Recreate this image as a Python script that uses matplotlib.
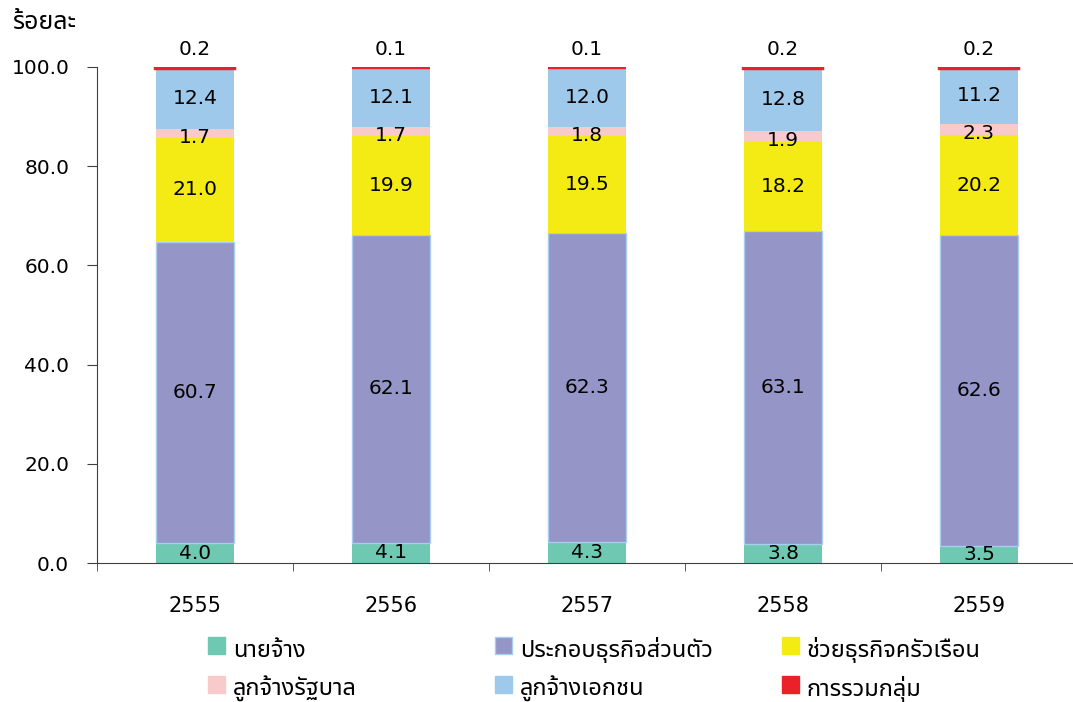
import matplotlib
matplotlib.use("Agg")
import matplotlib.pyplot as plt
from matplotlib.patches import Rectangle
import numpy as np

years = ["2555", "2556", "2557", "2558", "2559"]
employer = [4.0, 4.1, 4.3, 3.8, 3.5]
own_account = [60.7, 62.1, 62.3, 63.1, 62.6]
family_worker = [21.0, 19.9, 19.5, 18.2, 20.2]
gov_employee = [1.7, 1.7, 1.8, 1.9, 2.3]
private_employee = [12.4, 12.1, 12.0, 12.8, 11.2]
group_member = [0.2, 0.1, 0.1, 0.2, 0.2]

names = ["นายจ้าง", "ประกอบธุรกิจส่วนตัว", "ช่วยธุรกิจครัวเรือน",
         "ลูกจ้างรัฐบาล", "ลูกจ้างเอกชน", "การรวมกลุ่ม"]
colors = ["#6fc9b2", "#9595c8", "#f5eb14", "#f9caca", "#9fc9ea", "#ec2028"]
series = [employer, own_account, family_worker, gov_employee,
          private_employee, group_member]

thai = ["Noto Sans Thai", "DejaVu Sans"]
plt.rcParams["font.family"] = "DejaVu Sans"

W, H = 1073, 702
fig = plt.figure(figsize=(W / 100, H / 100), dpi=100)
ax = fig.add_axes([0.0904, 0.198, 0.9096, 0.7066])

x = np.arange(len(years))
w = 0.4
bottom = np.zeros(len(years))
for i, (vals, c) in enumerate(zip(series, colors)):
    vals = np.array(vals)
    if i == 1:
        ax.bar(x, vals, w, bottom=bottom, color=c, edgecolor="#a9cdee", linewidth=1.0)
    elif i == 5:
        ax.bar(x, vals, w, bottom=bottom, color=c, edgecolor=c, linewidth=3.2)
    else:
        ax.bar(x, vals, w, bottom=bottom, color=c, linewidth=0)
    for xi, v, bt in zip(x, vals, bottom):
        if i == 5:
            ax.text(xi, bt + v + 1.6, f"{v:.1f}", ha="center", va="bottom", fontsize=14.5)
        else:
            off = -0.8 if i == 3 else 0
            ax.text(xi, bt + v / 2 + off, f"{v:.1f}", ha="center", va="center", fontsize=14.5)
    bottom = bottom + vals

ax.set_xlim(-0.5, 4.48)
ax.set_ylim(0, 100)
ax.set_yticks(np.arange(0, 101, 20))
ax.set_yticklabels([f"{t:.1f}" for t in np.arange(0, 101, 20)], fontsize=14.5)
ax.set_xticks(x)
ax.set_xticklabels(years, fontsize=15)
ax.tick_params(axis="x", length=0, pad=24)
ax.set_xticks(np.arange(-0.5, 4.0, 1.0), minor=True)
ax.tick_params(axis="x", which="minor", length=6, direction="out", color="#404040")
ax.tick_params(axis="y", length=7, direction="out", color="#404040", pad=13)
for s in ["top", "right"]:
    ax.spines[s].set_visible(False)
ax.spines["left"].set_color("#404040")
ax.spines["bottom"].set_color("#404040")

fig.text(0.011, 0.968, "ร้อยละ", fontsize=18, family=thai, fontweight="bold", va="center")

# legend: 3 columns x 2 rows, laid out so every row shares a baseline
col_x = [208, 495, 782]
row_y = [637, 676]
for k, (name, c) in enumerate(zip(names, colors)):
    cx = col_x[k % 3]
    ry = row_y[k // 3]
    ec = "#a9cdee" if k == 1 else c
    fig.patches.append(Rectangle((cx / W, 1 - (ry + 17) / H), 17 / W, 17 / H,
                                 transform=fig.transFigure, facecolor=c,
                                 edgecolor=ec, linewidth=1.0))
    fig.text((cx + 25) / W, 1 - (ry + 20) / H, name, family=thai, fontsize=17,
             fontweight="semibold", va="baseline", ha="left")

fig.savefig("out.png")
